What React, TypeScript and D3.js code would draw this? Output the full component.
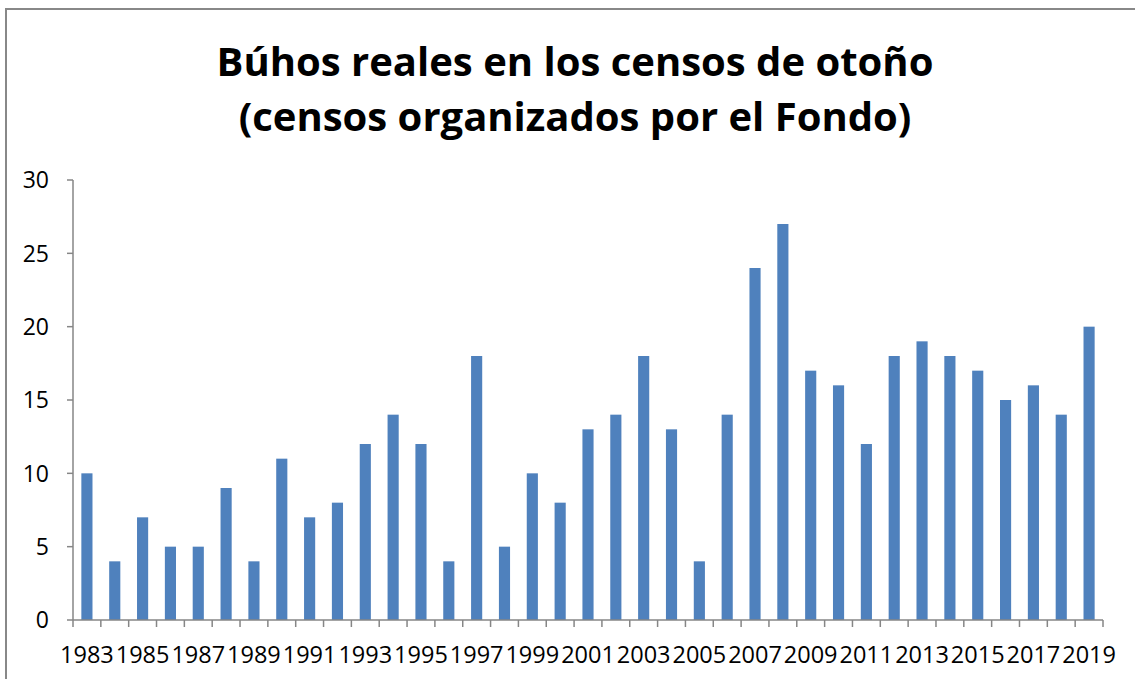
import React from "react";
import * as d3 from "d3";

const years: string[] = [
  "1983","1984","1985","1986","1987","1988","1989","1990","1991","1992",
  "1993","1994","1995","1996","1997","1998","1999","2000","2001","2002",
  "2003","2004","2005","2006","2007","2008","2009","2010","2011","2012",
  "2013","2014","2015","2016","2017","2018","2019",
];
const owls: number[] = [
  10,4,7,5,5,9,4,11,7,8,
  12,14,12,4,18,5,10,8,13,14,
  18,13,4,14,24,27,17,16,12,18,
  19,18,17,15,16,14,20,
];
const yTicks: number[] = [0,5,10,15,20,25,30];
const titleLines: string[] = [
  "Búhos reales en los censos de otoño",
  "(censos organizados por el Fondo)",
];

const W = 1135, H = 679;
const plot = { left: 73, right: 1103, top: 180, bottom: 620 };
const FONT = "'Open Sans', Lato, sans-serif";
const AXIS = "#868686";

export default function App() {
  const x = d3.scaleBand<string>().domain(years).range([plot.left, plot.right]).paddingInner(0).paddingOuter(0);
  const y = d3.scaleLinear().domain([0, 30]).range([plot.bottom, plot.top]);
  const bw = x.bandwidth() * 0.4;
  return (
    <svg width={W} height={H} style={{ position: "fixed", left: 0, top: 0, background: "#fff" }}>
      <rect x={0} y={0} width={W} height={H} fill="#fff" />
      <path d={`M6,${H + 5}V9H${W + 5}`} fill="none" stroke="#888" strokeWidth={2} />
      {titleLines.map((t, i) => (
        <text key={i} x={575} y={76 + i * 55} textAnchor="middle" fontFamily={FONT} fontWeight="bold" fontSize={40} fill="#000">{t}</text>
      ))}
      {owls.map((v, i) => (
        <rect key={years[i]} x={(x(years[i]) as number) + (x.bandwidth() - bw) / 2} y={y(v)} width={bw} height={y(0) - y(v)} fill="#4F81BD" />
      ))}
      <line x1={plot.left} x2={plot.left} y1={plot.top} y2={plot.bottom} stroke={AXIS} strokeWidth={1.5} />
      {yTicks.map((t) => (
        <g key={t}>
          <line x1={plot.left - 6} x2={plot.left} y1={y(t)} y2={y(t)} stroke={AXIS} strokeWidth={1.5} />
          <text x={49} y={y(t)} dy="0.36em" textAnchor="end" fontFamily={FONT} fontSize={23} fill="#000">{t}</text>
        </g>
      ))}
      <line x1={plot.left} x2={plot.right} y1={plot.bottom} y2={plot.bottom} stroke={AXIS} strokeWidth={1.5} />
      {years.map((yr) => (
        <line key={"t" + yr} x1={x(yr) as number} x2={x(yr) as number} y1={plot.bottom} y2={plot.bottom + 7} stroke={AXIS} strokeWidth={1.5} />
      ))}
      <line x1={plot.right} x2={plot.right} y1={plot.bottom} y2={plot.bottom + 7} stroke={AXIS} strokeWidth={1.5} />
      {years.map((yr, i) => i % 2 === 0 ? (
        <text key={"l" + yr} x={(x(yr) as number) + x.bandwidth() / 2} y={663} textAnchor="middle" fontFamily={FONT} fontSize={23.5} fill="#000">{yr}</text>
      ) : null)}
    </svg>
  );
}
